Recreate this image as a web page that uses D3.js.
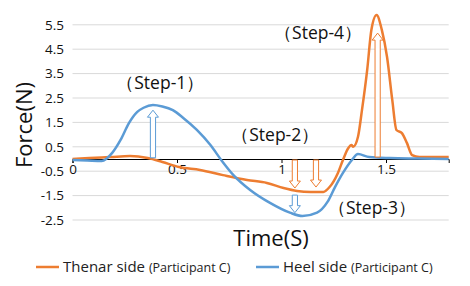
<!DOCTYPE html>
<html>
<head>
<meta charset="utf-8">
<script src="https://cdn.jsdelivr.net/npm/d3@7"></script>
<style>
  body { margin: 0; background: #fff; }
  text { font-family: "Open Sans", "Noto Sans", sans-serif; }
</style>
</head>
<body>
<div id="wrapper"></div>
<script>
// heel side (blue)
const heelTime  = [0, 0.07, 0.14, 0.19, 0.23, 0.27, 0.31, 0.34, 0.385, 0.43, 0.48, 0.53, 0.595, 0.66, 0.715, 0.77, 0.85, 0.945, 1.04, 1.10, 1.17, 1.22, 1.256, 1.294, 1.337, 1.366, 1.42, 1.52, 1.65, 1.8];
const heelForce = [-0.04, -0.06, -0.08, 0.25, 0.78, 1.47, 1.93, 2.1, 2.21, 2.15, 2.0, 1.68, 1.19, 0.57, -0.08, -0.66, -1.27, -1.8, -2.2, -2.34, -2.2, -1.76, -1.15, -0.57, -0.04, 0.2, 0.08, 0.04, 0.02, 0.0];

// thenar side (orange)
const thenarTime  = [0, 0.08, 0.18, 0.275, 0.36, 0.43, 0.51, 0.61, 0.72, 0.835, 0.93, 1.01, 1.074, 1.14, 1.2, 1.23, 1.27, 1.294, 1.32, 1.335, 1.343, 1.366, 1.385, 1.41, 1.43, 1.455, 1.48, 1.505, 1.53, 1.55, 1.575, 1.6, 1.625, 1.66, 1.8];
const thenarForce = [0, 0.04, 0.08, 0.12, 0.04, -0.12, -0.33, -0.45, -0.66, -0.86, -0.98, -1.19, -1.31, -1.35, -1.35, -1.15, -0.57, -0.04, 0.45, 0.57, 0.5, 0.91, 2.0, 3.65, 5.29, 5.9, 5.29, 4.18, 2.42, 1.19, 1.07, 0.66, 0.16, 0.08, 0.08];

const yTicks = [-2.5, -1.5, -0.5, 0.5, 1.5, 2.5, 3.5, 4.5, 5.5];
const xTicks = [0, 0.5, 1, 1.5];

// hollow arrows: time, start force, end force, series
const arrows = [
    {t: 0.385, from: 0.05, to: 2.0, s: "heel"},
    {t: 1.064, from: -0.04, to: -1.19, s: "thenar"},
    {t: 1.165, from: -0.04, to: -1.15, s: "thenar"},
    {t: 1.064, from: -1.48, to: -2.2, s: "heel"},
    {t: 1.46, from: 0.08, to: 5.16, s: "thenar"}
];

const stepLabels = [
    {text: "（Step-1）", t: 0.42, v: 3.1},
    {text: "（Step-2）", t: 0.97, v: 0.98},
    {text: "（Step-3）", t: 1.433, v: -2.0},
    {text: "（Step-4）", t: 1.175, v: 5.16}
];

const colors = {thenar: "#ed7d31", heel: "#5b9bd5"};

const width = 470, height = 286;
const svg = d3.select("#wrapper").append("svg")
    .attr("width", width)
    .attr("height", height);

const x = d3.scaleLinear().domain([0, 1.8]).range([72.5, 448.7]);
const y = d3.scaleLinear().domain([-2.5, 5.5]).range([220, 24.8]);

// gridlines
svg.append("g")
    .selectAll("line")
    .data(yTicks)
    .join("line")
    .attr("x1", x(0)).attr("x2", x(1.8))
    .attr("y1", d => y(d)).attr("y2", d => y(d))
    .attr("stroke", "#d9d9d9")
    .attr("stroke-width", 1);

// y labels
svg.append("g")
    .selectAll("text")
    .data(yTicks)
    .join("text")
    .attr("x", 64)
    .attr("y", d => y(d))
    .attr("dy", "0.35em")
    .attr("text-anchor", "end")
    .attr("font-size", 13.5)
    .attr("fill", "#111")
    .text(d => d);

// x axis on zero
const xAxis = d3.axisBottom(x)
    .tickValues(xTicks)
    .tickSize(4)
    .tickFormat(d => d);

const gx = svg.append("g")
    .attr("transform", `translate(0, ${y(0)})`)
    .call(xAxis);
gx.select(".domain").attr("stroke", "#000").attr("stroke-width", 1);
gx.selectAll(".tick line").attr("stroke", "#000");
gx.selectAll(".tick text")
    .attr("font-size", 13.5)
    .attr("font-family", "Open Sans, Noto Sans, sans-serif")
    .attr("fill", "#111")
    .attr("dy", "0.6em");

const line = d3.line()
    .x(d => x(d[0]))
    .y(d => y(d[1]))
    .curve(d3.curveMonotoneX);

svg.append("path")
    .attr("d", line(d3.zip(thenarTime, thenarForce)))
    .attr("fill", "none")
    .attr("stroke", colors.thenar)
    .attr("stroke-width", 2.5)
    .attr("stroke-linejoin", "round");

svg.append("path")
    .attr("d", line(d3.zip(heelTime, heelForce)))
    .attr("fill", "none")
    .attr("stroke", colors.heel)
    .attr("stroke-width", 2.5)
    .attr("stroke-linejoin", "round");

// block arrows
function arrowPath(a) {
    const cx = x(a.t), y0 = y(a.from), y1 = y(a.to);
    const dir = y1 < y0 ? -1 : 1;
    const sw = 2.6, hw = 5.5, hl = 7;
    const yb = y1 - dir * hl;
    return `M${cx - sw},${y0} L${cx - sw},${yb} L${cx - hw},${yb} L${cx},${y1} L${cx + hw},${yb} L${cx + sw},${yb} L${cx + sw},${y0} Z`;
}

svg.append("g")
    .selectAll("path")
    .data(arrows)
    .join("path")
    .attr("d", arrowPath)
    .attr("fill", "#fff")
    .attr("stroke", d => colors[d.s])
    .attr("stroke-width", 1);

// step labels
svg.append("g")
    .selectAll("text")
    .data(stepLabels)
    .join("text")
    .attr("x", d => x(d.t))
    .attr("y", d => y(d.v))
    .attr("dy", "0.35em")
    .attr("text-anchor", "middle")
    .attr("font-family", "Noto Sans CJK JP")
    .attr("font-size", 17.5)
    .attr("textLength", 88)
    .attr("lengthAdjust", "spacing")
    .attr("fill", "#111")
    .text(d => d.text);

// axis titles
svg.append("text")
    .attr("x", 271)
    .attr("y", 246)
    .attr("text-anchor", "middle")
    .attr("font-size", 22)
    .attr("fill", "#111")
    .text("Time(S)");

svg.append("text")
    .attr("transform", "translate(32, 125) rotate(-90)")
    .attr("text-anchor", "middle")
    .attr("font-size", 22)
    .attr("fill", "#111")
    .text("Force(N)");

// legend
const legend = [
    {name: "Thenar side", s: "thenar", x: 36},
    {name: "Heel side", s: "heel", x: 256}
];
const lg = svg.append("g")
    .selectAll("g")
    .data(legend)
    .join("g")
    .attr("transform", d => `translate(${d.x}, 267)`);
lg.append("line")
    .attr("x1", 0).attr("x2", 23)
    .attr("stroke", d => colors[d.s])
    .attr("stroke-width", 2.5);
const lt = lg.append("text")
    .attr("x", 27)
    .attr("dy", "0.35em")
    .attr("font-size", 15)
    .attr("fill", "#222");
lt.append("tspan").text(d => d.name + " ");
lt.append("tspan").attr("font-size", 12.5).text("(Participant C)");
</script>
</body>
</html>
